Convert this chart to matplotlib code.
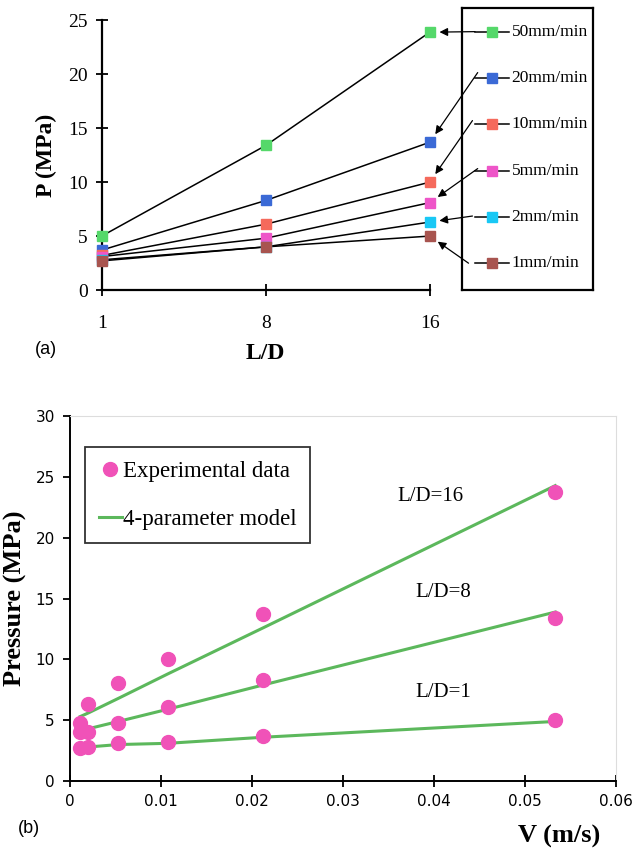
import numpy as np
import matplotlib
matplotlib.use("Agg")
import matplotlib.pyplot as plt

serif = ['Liberation Serif', 'DejaVu Serif']
sans = ['Liberation Sans', 'DejaVu Sans']

# (a) pressure vs L/D for each ram speed
ld_labels = ['1', '8', '16']
speeds = ['50mm/min', '20mm/min', '10mm/min', '5mm/min', '2mm/min', '1mm/min']
speed_colors = ['#55d86a', '#3b6ad6', '#f56a5c', '#ee55c8', '#19c8f5', '#a8544f']
p_50 = [5.0, 13.4, 23.9]
p_20 = [3.7, 8.3, 13.7]
p_10 = [3.2, 6.1, 10.0]
p_5 = [3.1, 4.8, 8.1]
p_2 = [2.8, 4.0, 6.3]
p_1 = [2.7, 4.0, 5.0]
p_all = [p_50, p_20, p_10, p_5, p_2, p_1]

# (b) pressure vs velocity
v = [0.0011, 0.002, 0.0053, 0.0107, 0.0212, 0.0533]
exp_ld16 = [4.8, 6.3, 8.1, 10.0, 13.7, 23.8]
exp_ld8 = [4.0, 4.0, 4.8, 6.1, 8.3, 13.4]
exp_ld1 = [2.7, 2.8, 3.1, 3.2, 3.7, 5.0]
mod_ld16 = [5.3, 5.6, 6.8, 8.8, 12.6, 24.3]
mod_ld8 = [4.1, 4.3, 4.9, 5.9, 7.9, 13.9]
mod_ld1 = [2.7, 2.8, 3.0, 3.1, 3.6, 4.9]

fig = plt.figure(figsize=(6.32, 8.48), dpi=100)

# ---------- panel (a) ----------
ax1 = fig.add_axes([0.161, 0.658, 0.519, 0.318])
xpos = np.arange(len(ld_labels))
for vals, c in zip(p_all, speed_colors):
    ax1.plot(xpos, vals, color='black', lw=1.1, zorder=2)
    ax1.plot(xpos, vals, ls='none', marker='s', ms=7, color=c, mec=c,
             clip_on=False, zorder=3)
ax1.set_xlim(0, 2)
ax1.set_ylim(0, 25)
ax1.set_xticks(xpos)
ax1.set_xticklabels(ld_labels)
ax1.set_yticks(np.arange(0, 26, 5))
for s in ['top', 'right']:
    ax1.spines[s].set_visible(False)
for s in ['left', 'bottom']:
    ax1.spines[s].set_linewidth(1.6)
ax1.tick_params(direction='inout', length=8, width=1.3, labelsize=14)
ax1.tick_params(axis='x', pad=14)
ax1.tick_params(axis='y', pad=6)
for lab in ax1.get_xticklabels() + ax1.get_yticklabels():
    lab.set_family(serif)
ax1.set_ylabel('P (MPa)', family=serif, fontweight='bold', fontsize=17, labelpad=8)
ax1.set_xlabel('L/D', family=serif, fontweight='bold', fontsize=17, labelpad=8)
fig.text(0.055, 0.582, '(a)', family=sans, fontsize=13)

# legend box for (a), drawn by hand so the arrows can start from it
axl = fig.add_axes([0.731, 0.658, 0.207, 0.333])
axl.set_xlim(0, 1)
axl.set_ylim(0, 1)
axl.set_xticks([])
axl.set_yticks([])
axl.patch.set_alpha(0)
for s in axl.spines.values():
    s.set_linewidth(1.6)
entry_y = np.linspace(0.915, 0.095, len(speeds))
arrow_start = [(0.1, 0.915), (0.12, 0.77), (0.08, 0.6), (0.12, 0.43), (0.08, 0.262), (0.05, 0.095)]
for i, (name, c) in enumerate(zip(speeds, speed_colors)):
    y = entry_y[i]
    axl.plot([0.1, 0.36], [y, y], color='black', lw=1.1)
    axl.plot([0.23], [y], marker='s', ms=7, color=c, mec=c)
    axl.text(0.38, y, name, family=serif, fontsize=12.5, va='center', ha='left')
    ax1.annotate('', xy=(2, p_all[i][-1]), xycoords='data',
                 xytext=arrow_start[i], textcoords=axl.transAxes,
                 arrowprops=dict(arrowstyle='-|>', color='black', lw=0.9,
                                 shrinkA=0, shrinkB=7, mutation_scale=12))

# ---------- panel (b) ----------
ax2 = fig.add_axes([0.111, 0.079, 0.864, 0.430])
green = '#5cb85c'
pink = '#f052b8'
for mod in [mod_ld16, mod_ld8, mod_ld1]:
    ax2.plot(v, mod, color=green, lw=2.2, zorder=2)
for exp in [exp_ld16, exp_ld8, exp_ld1]:
    ax2.plot(v, exp, ls='none', marker='o', ms=10, color=pink, zorder=3)
ax2.set_xlim(0, 0.06)
ax2.set_ylim(0, 30)
ax2.set_xticks(np.arange(0, 0.061, 0.01))
ax2.set_xticklabels(['0', '0.01', '0.02', '0.03', '0.04', '0.05', '0.06'])
ax2.set_yticks(np.arange(0, 31, 5))
ax2.spines['top'].set_color('#dddddd')
ax2.spines['right'].set_color('#dddddd')
ax2.spines['left'].set_linewidth(1.4)
ax2.spines['bottom'].set_linewidth(1.4)
ax2.tick_params(axis='x', direction='inout', length=8, width=1.3, labelsize=11, pad=5)
ax2.tick_params(axis='y', direction='out', length=5, width=1.3, labelsize=11, pad=6)
ax2.set_ylabel('Pressure (MPa)', family=serif, fontweight='bold', fontsize=19, labelpad=6)
fig.text(0.95, 0.006, 'V (m/s)', family=serif, fontweight='bold', fontsize=19, ha='right')
fig.text(0.028, 0.018, '(b)', family=sans, fontsize=13)

ax2.text(0.0396, 23.4, 'L/D=16', family=serif, fontsize=15, ha='center', va='center')
ax2.text(0.041, 15.5, 'L/D=8', family=serif, fontsize=15, ha='center', va='center')
ax2.text(0.041, 7.3, 'L/D=1', family=serif, fontsize=15, ha='center', va='center')

h1, = ax2.plot([], [], ls='none', marker='o', ms=10, color=pink)
h2, = ax2.plot([], [], color=green, lw=2.2)
leg = ax2.legend([h1, h2], ['Experimental data', '4-parameter model'],
                 loc='upper left', bbox_to_anchor=(0.027, 0.915), borderaxespad=0,
                 prop={'family': serif, 'size': 16.5}, frameon=True, fancybox=False,
                 edgecolor='black', borderpad=0.6, labelspacing=1.15,
                 handlelength=1.0, handletextpad=0.05)
leg.get_frame().set_linewidth(1.3)

fig.savefig('out.png', dpi=100)
